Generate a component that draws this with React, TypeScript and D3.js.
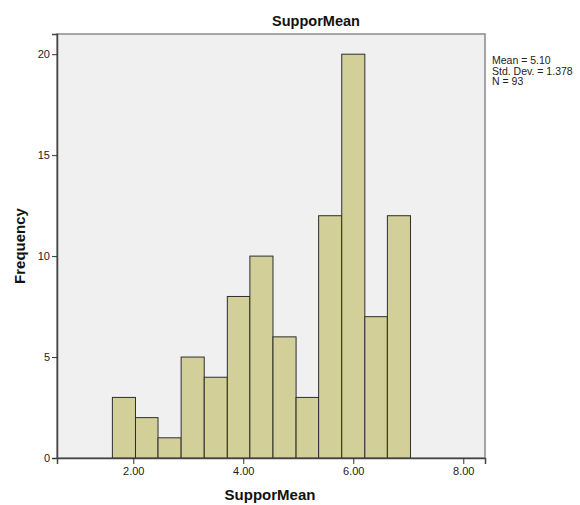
import React, { useRef, useEffect } from "react";
import * as d3 from "d3";

// histogram of SupporMean
const binEdges = [1.62, 2.04, 2.45, 2.87, 3.29, 3.71, 4.12, 4.54, 4.96, 5.37, 5.79, 6.21, 6.62, 7.04];
const counts = [3, 2, 1, 5, 4, 8, 10, 6, 3, 12, 20, 7, 12];
const xTicks = [2, 4, 6, 8];
const yTicks = [0, 5, 10, 15, 20];
const statLines = ["Mean = 5.10", "Std. Dev. = 1.378", "N = 93"];

const App = () => {
	const ref = useRef<SVGSVGElement>(null);
	const width = 580;
	const height = 505;
	const plot = { left: 57, right: 485, top: 34, bottom: 458 };

	useEffect(() => {
		const svg = d3.select(ref.current);
		svg.selectAll("*").remove();

		const font = "Arial, 'Liberation Sans', sans-serif";
		const x = d3.scaleLinear().domain([0.613, 8.395]).range([plot.left, plot.right]);
		const y = d3.scaleLinear().domain([0, 21]).range([plot.bottom, plot.top]);

		// plot background
		svg
			.append("rect")
			.attr("x", plot.left)
			.attr("y", plot.top)
			.attr("width", plot.right - plot.left)
			.attr("height", plot.bottom - plot.top)
			.attr("fill", "#f0f0f0")
			.attr("stroke", "#8a8a8a")
			.attr("stroke-width", 1.5);

		// bars
		const bins = counts.map((c, i) => ({ x0: binEdges[i], x1: binEdges[i + 1], c }));
		svg
			.selectAll(".bar")
			.data(bins)
			.enter()
			.append("rect")
			.attr("class", "bar")
			.attr("x", (d) => x(d.x0))
			.attr("y", (d) => y(d.c))
			.attr("width", (d) => x(d.x1) - x(d.x0))
			.attr("height", (d) => y(0) - y(d.c))
			.attr("fill", "#d3cf98")
			.attr("stroke", "#2e2e2e")
			.attr("stroke-width", 1);

		// axes
		const yAxis = d3
			.axisLeft(y)
			.tickValues(yTicks)
			.tickSize(5)
			.tickPadding(2)
			.tickFormat(d3.format("d"));
		const gy = svg.append("g").attr("transform", `translate(${plot.left},0)`).call(yAxis);
		gy.select(".domain").attr("stroke", "#444").attr("stroke-width", 1.5);

		const xAxis = d3
			.axisBottom(x)
			.tickValues(xTicks)
			.tickSize(6)
			.tickPadding(3)
			.tickFormat(d3.format(".2f"));
		const gx = svg.append("g").attr("transform", `translate(0,${plot.bottom})`).call(xAxis);
		gx.select(".domain").attr("stroke", "#444").attr("stroke-width", 1.5);

		[gx, gy].forEach((g) => {
			g.selectAll(".tick line").attr("stroke", "#333");
			g.selectAll("text")
				.attr("font-family", font)
				.attr("font-size", 11)
				.attr("fill", "#222");
		});

		// title
		svg
			.append("text")
			.attr("x", 316)
			.attr("y", 26)
			.attr("text-anchor", "middle")
			.attr("font-family", font)
			.attr("font-weight", "bold")
			.attr("font-size", 14.5)
			.attr("fill", "#111")
			.text("SupporMean");

		// x label
		svg
			.append("text")
			.attr("x", 270)
			.attr("y", 500)
			.attr("text-anchor", "middle")
			.attr("font-family", font)
			.attr("font-weight", "bold")
			.attr("font-size", 15)
			.attr("fill", "#111")
			.text("SupporMean");

		// y label
		svg
			.append("text")
			.attr("transform", `translate(25,${(plot.top + plot.bottom) / 2}) rotate(-90)`)
			.attr("text-anchor", "middle")
			.attr("font-family", font)
			.attr("font-weight", "bold")
			.attr("font-size", 15)
			.attr("fill", "#111")
			.text("Frequency");

		// stats
		svg
			.append("g")
			.selectAll("text")
			.data(statLines)
			.enter()
			.append("text")
			.attr("x", 492)
			.attr("y", (d, i) => 64 + i * 10.5)
			.attr("font-family", font)
			.attr("font-size", 10.5)
			.attr("fill", "#222")
			.text((d) => d);
	}, []);

	return (
		<svg
			ref={ref}
			width={width}
			height={height}
			style={{ position: "absolute", left: 0, top: 0, display: "block", background: "#fff" }}
		/>
	);
};

export default App;
